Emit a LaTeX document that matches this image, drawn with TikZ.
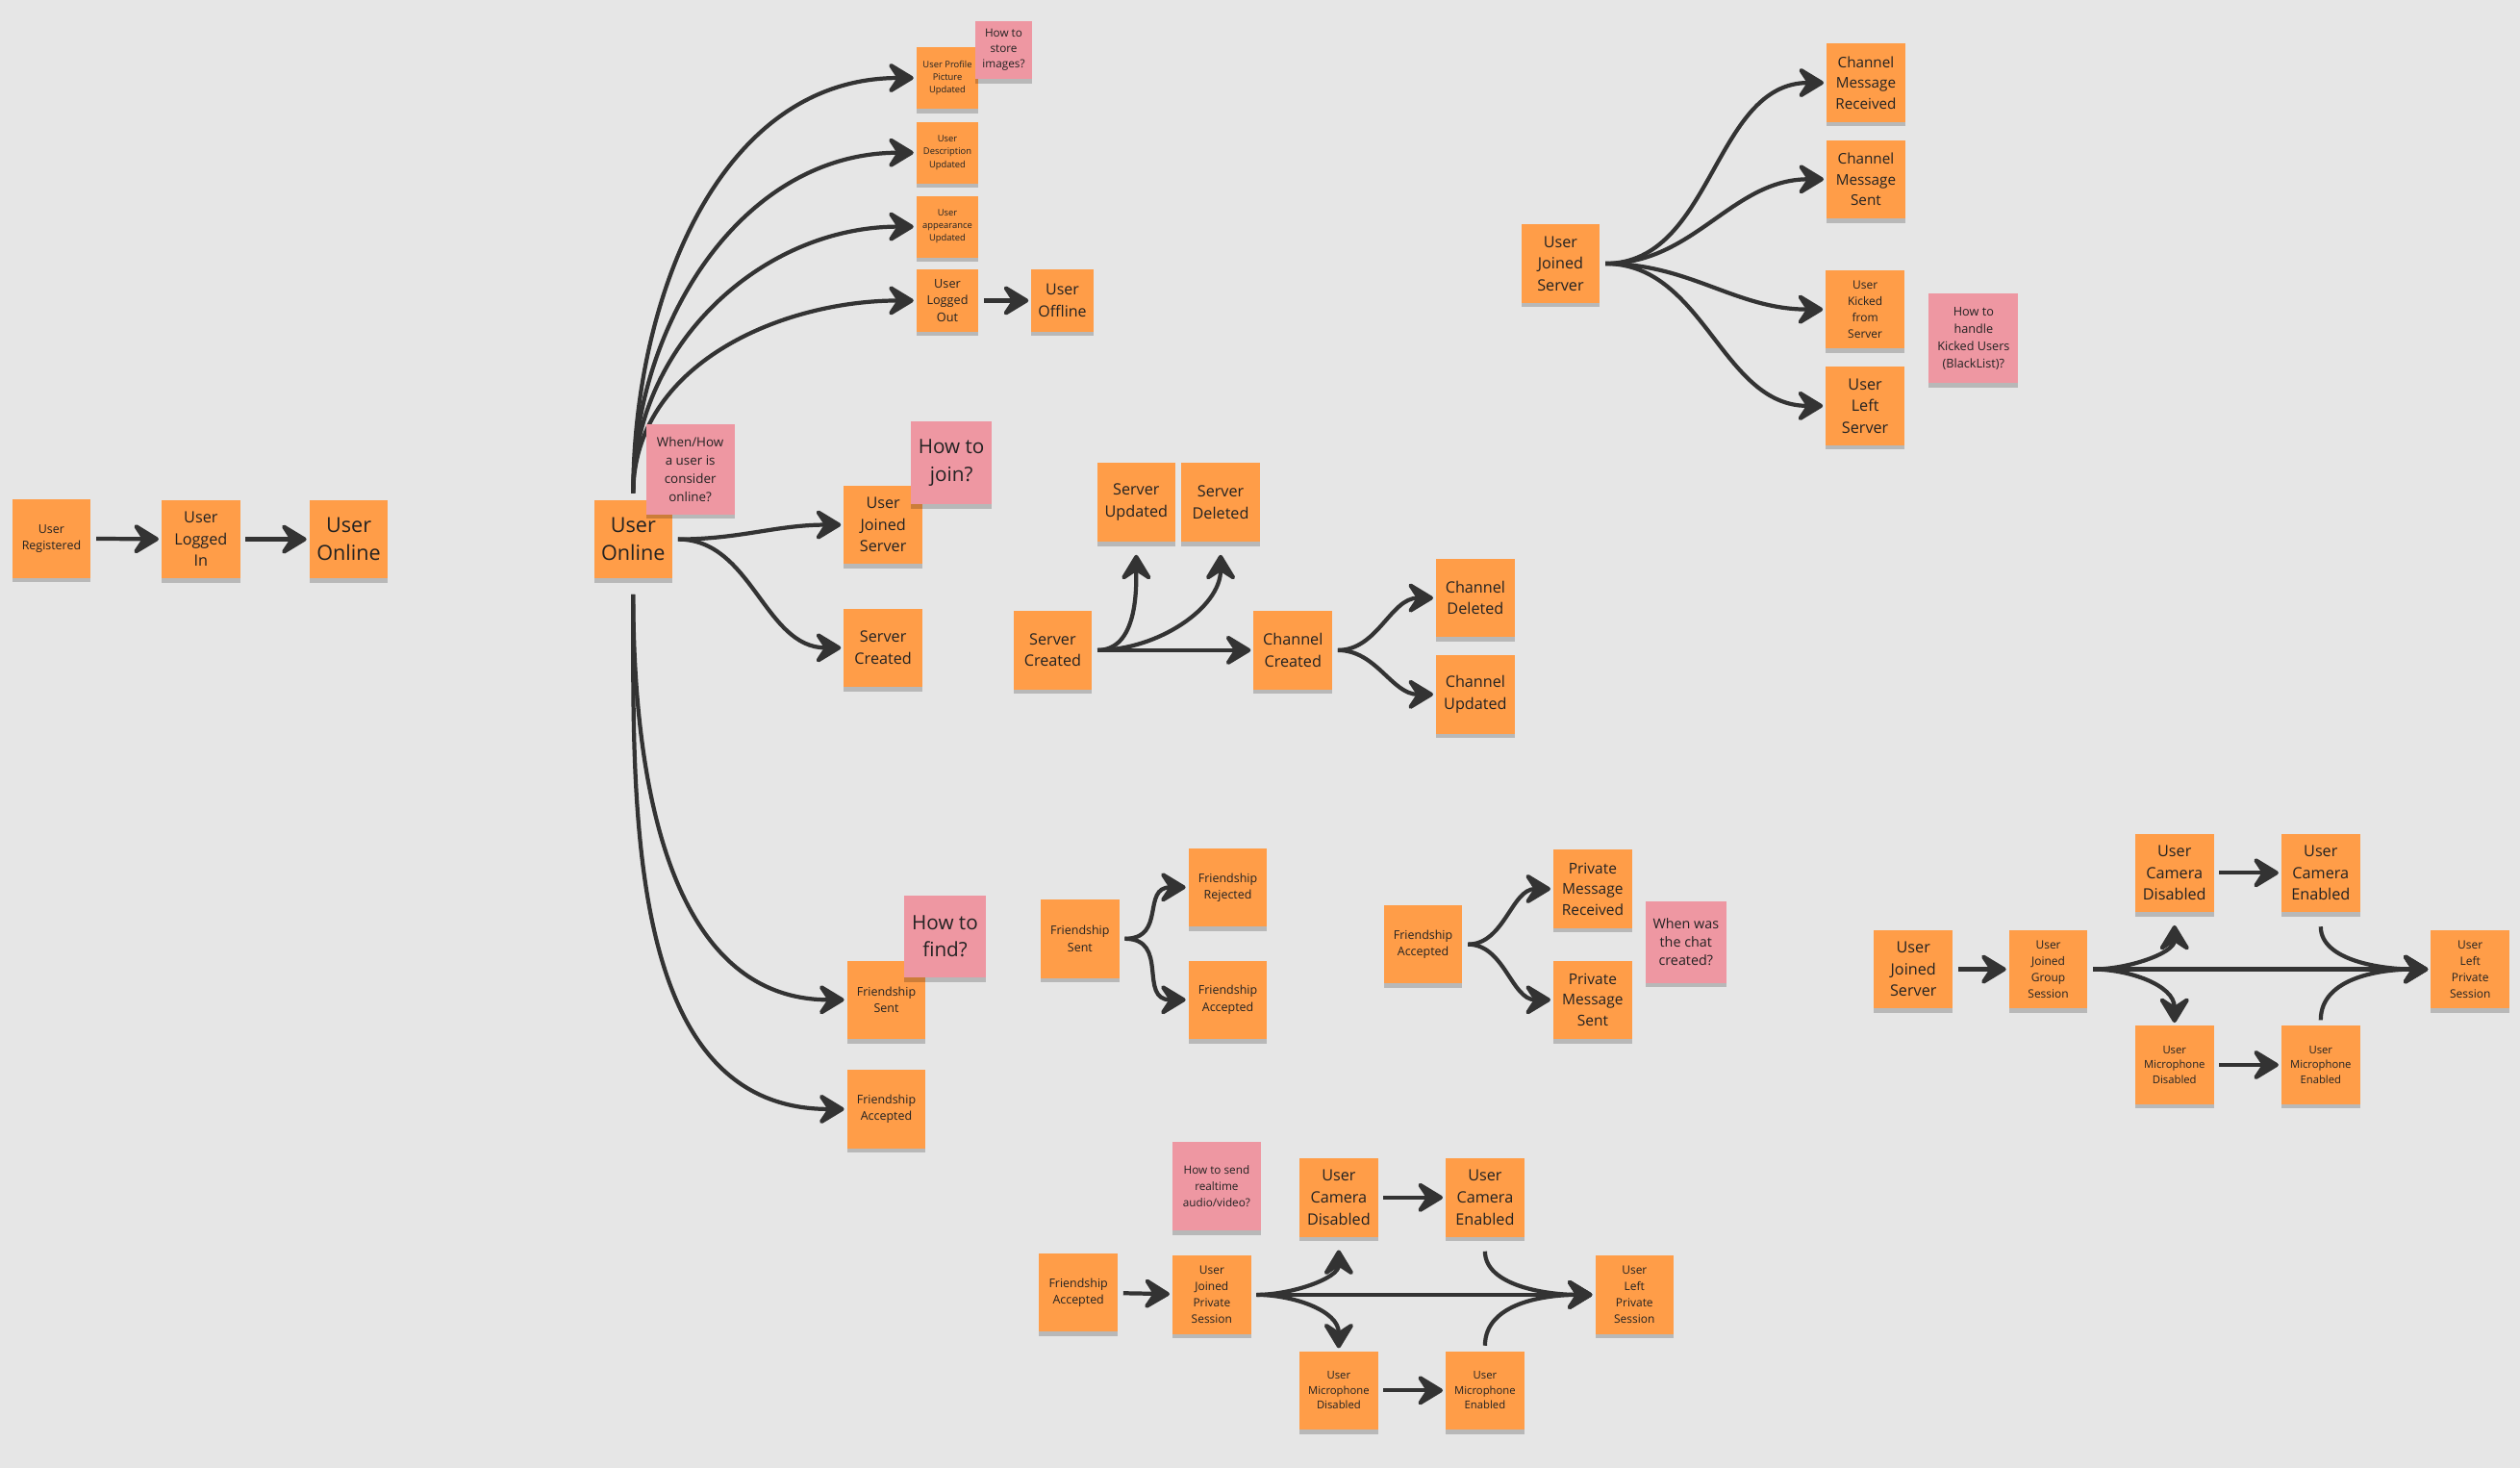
\documentclass[tikz,border=0pt]{standalone}
\usepackage{fontspec}
\setmainfont{Open Sans}
\usepackage{tikz}
\usetikzlibrary{arrows.meta,shadows}
\definecolor{boardgray}{HTML}{E6E6E6}
\definecolor{stickyorange}{HTML}{FF9D48}
\definecolor{stickypink}{HTML}{EE97A2}
\definecolor{inkgray}{HTML}{333333}
\definecolor{notetext}{HTML}{222222}
\tikzset{
  stickybox/.style={fill=stickyorange,text=notetext,align=center,inner sep=0pt,
    minimum width=12.2mm,minimum height=12.2mm,
    drop shadow={shadow xshift=0mm,shadow yshift=-0.7mm,opacity=0.2,fill=black}},
  questionbox/.style={stickybox,fill=stickypink},
  smallsticky/.style={minimum width=9.6mm,minimum height=9.6mm},
  tinytext/.style={font=\fontsize{4}{5.6}\selectfont},
  smalltext/.style={font=\fontsize{5.3}{7.3}\selectfont},
  sessiontext/.style={font=\fontsize{5.1}{7.2}\selectfont},
  mictext/.style={font=\fontsize{4.8}{6.6}\selectfont},
  midtext/.style={font=\fontsize{6.9}{9.6}\selectfont},
  msgtext/.style={font=\fontsize{6.5}{9.2}\selectfont},
  bigtext/.style={font=\fontsize{9.2}{12.2}\selectfont},
  flowarrow/.style={-{Stealth[length=4.8mm,width=5.8mm,inset=1.9mm,round]},
    line width=1.8pt,draw=inkgray,shorten <=0.8mm,shorten >=0.4mm}
}

\begin{document}
\begin{tikzpicture}[x=0.25mm,y=-0.25mm]
  \fill[boardgray] (0,0) rectangle (1568,913);
  \useasboundingbox (0,0) rectangle (1568,913);

  % sign in
  \node[stickybox,smalltext] (registered) at (32,335) {User\\Registered};
  \node[stickybox,midtext] (loggedin) at (125,335.5) {User\\Logged\\In};
  \node[stickybox,bigtext] (online) at (217,335.5) {User\\Online};
  \draw[flowarrow] (registered) -- (loggedin);
  \draw[flowarrow] (loggedin) -- (online);

  % what an online user can do
  \node[stickybox,bigtext] (hub) at (394,335.5) {User\\Online};
  \node[stickybox,smallsticky,tinytext] (picture) at (589.5,48.5) {User Profile\\Picture\\Updated};
  \node[stickybox,smallsticky,tinytext] (description) at (589.5,95) {User\\Description\\Updated};
  \node[stickybox,smallsticky,tinytext] (appearance) at (589.5,141) {User\\appearance\\Updated};
  \node[stickybox,smallsticky,font=\fontsize{5.4}{7.4}\selectfont] (loggedout) at (589.5,187) {User\\Logged\\Out};
  \node[stickybox,smallsticky,font=\fontsize{6.8}{9.6}\selectfont] (offline) at (661,187) {User\\Offline};
  \node[stickybox,midtext] (joinedserver) at (549.5,326.5) {User\\Joined\\Server};
  \node[stickybox,midtext] (servercreated) at (549.5,403) {Server\\Created};
  \node[stickybox,smalltext] (friendsent) at (551.5,622) {Friendship\\Sent};
  \node[stickybox,smalltext] (friendaccepted) at (551.5,690) {Friendship\\Accepted};
  \foreach \target in {picture,description,appearance,loggedout}
    \draw[flowarrow,shorten <=1mm] (hub.north) to[out=90,in=180] (\target.west);
  \draw[flowarrow] (loggedout) -- (offline);
  \draw[flowarrow] (hub.east) to[out=0,in=180] (joinedserver.west);
  \draw[flowarrow] (hub.east) to[out=0,in=180] (servercreated.west);
  \foreach \target in {friendsent,friendaccepted}
    \draw[flowarrow,shorten <=2.4mm] (hub.south) to[out=-90,in=180] (\target.west);

  % servers and channels
  \node[stickybox,midtext] (server) at (655,404.5) {Server\\Created};
  \node[stickybox,midtext] (serverupdated) at (707,312.5) {Server\\Updated};
  \node[stickybox,midtext] (serverdeleted) at (759.5,312.5) {Server\\Deleted};
  \node[stickybox,midtext] (channel) at (804.5,404.5) {Channel\\Created};
  \node[stickybox,midtext] (channeldeleted) at (918,372) {Channel\\Deleted};
  \node[stickybox,midtext] (channelupdated) at (918,432) {Channel\\Updated};
  \draw[flowarrow,shorten >=2mm] (server.east) to[out=0,in=-90] (serverupdated.south);
  \draw[flowarrow,shorten >=2mm] (server.east) to[out=0,in=-90] (serverdeleted.south);
  \draw[flowarrow] (server) -- (channel);
  \draw[flowarrow] (channel.east) to[out=0,in=180] (channeldeleted.west);
  \draw[flowarrow] (channel.east) to[out=0,in=180] (channelupdated.west);

  % membership
  \node[stickybox,midtext] (member) at (971,164) {User\\Joined\\Server};
  \node[stickybox,msgtext] (channelreceived) at (1161,51.5) {Channel\\Message\\Received};
  \node[stickybox,msgtext] (channelsent) at (1161,111.5) {Channel\\Message\\Sent};
  \node[stickybox,sessiontext] (kicked) at (1160.5,192.5) {User\\Kicked\\from\\Server};
  \node[stickybox,midtext] (leftserver) at (1160.5,252.5) {User\\Left\\Server};
  \foreach \target in {channelreceived,channelsent,kicked,leftserver}
    \draw[flowarrow] (member.east) to[out=0,in=180] (\target.west);

  % friend requests
  \node[stickybox,smalltext] (request) at (672,584) {Friendship\\Sent};
  \node[stickybox,smalltext] (rejected) at (764,552) {Friendship\\Rejected};
  \node[stickybox,smalltext] (accepted) at (764,622) {Friendship\\Accepted};
  \foreach \target in {rejected,accepted}
    \draw[flowarrow,looseness=1.4] (request.east) to[out=0,in=180] (\target.west);

  % private chat
  \node[stickybox,smalltext] (friends) at (885.5,587.5) {Friendship\\Accepted};
  \node[stickybox,font=\fontsize{6.6}{9.2}\selectfont] (privatereceived) at (991,553) {Private\\Message\\Received};
  \node[stickybox,font=\fontsize{6.6}{9.2}\selectfont] (privatesent) at (991,622) {Private\\Message\\Sent};
  \foreach \target in {privatereceived,privatesent}
    \draw[flowarrow] (friends.east) to[out=0,in=180] (\target.west);

  % private session
  \node[stickybox,smalltext] (callstart) at (671,804) {Friendship\\Accepted};
  \node[stickybox,sessiontext] (privatesession) at (754,805.5) {User\\Joined\\Private\\Session};
  \node[stickybox,midtext] (cameraoff) at (833,745) {User\\Camera\\Disabled};
  \node[stickybox,midtext] (cameraon) at (924,745) {User\\Camera\\Enabled};
  \node[stickybox,mictext] (micoff) at (833,865) {User\\Microphone\\Disabled};
  \node[stickybox,mictext] (micon) at (924,865) {User\\Microphone\\Enabled};
  \node[stickybox,sessiontext] (privateleft) at (1017,805.5) {User\\Left\\Private\\Session};
  \draw[flowarrow] (callstart) -- (privatesession);
  \draw[flowarrow] (privatesession) -- (privateleft);
  \draw[flowarrow,shorten >=2mm] (privatesession.east) to[out=0,in=-90] (cameraoff.south);
  \draw[flowarrow] (privatesession.east) to[out=0,in=90] (micoff.north);
  \draw[flowarrow] (cameraoff) -- (cameraon);
  \draw[flowarrow] (micoff) -- (micon);
  \draw[flowarrow,shorten <=2.2mm] (cameraon.south) to[out=-90,in=180] (privateleft.west);
  \draw[flowarrow] (micon.north) to[out=90,in=180] (privateleft.west);

  % group session
  \node[stickybox,midtext] (groupmember) at (1190.5,603) {User\\Joined\\Server};
  \node[stickybox,sessiontext] (groupsession) at (1274.5,603) {User\\Joined\\Group\\Session};
  \node[stickybox,midtext] (groupcameraoff) at (1353,543) {User\\Camera\\Disabled};
  \node[stickybox,midtext] (groupcameraon) at (1444,543) {User\\Camera\\Enabled};
  \node[stickybox,mictext] (groupmicoff) at (1353,662.5) {User\\Microphone\\Disabled};
  \node[stickybox,mictext] (groupmicon) at (1444,662.5) {User\\Microphone\\Enabled};
  \node[stickybox,sessiontext] (groupleft) at (1537,603) {User\\Left\\Private\\Session};
  \draw[flowarrow] (groupmember) -- (groupsession);
  \draw[flowarrow] (groupsession) -- (groupleft);
  \draw[flowarrow,shorten >=2mm] (groupsession.east) to[out=0,in=-90] (groupcameraoff.south);
  \draw[flowarrow] (groupsession.east) to[out=0,in=90] (groupmicoff.north);
  \draw[flowarrow] (groupcameraoff) -- (groupcameraon);
  \draw[flowarrow] (groupmicoff) -- (groupmicon);
  \draw[flowarrow,shorten <=2.2mm] (groupcameraon.south) to[out=-90,in=180] (groupleft.west);
  \draw[flowarrow] (groupmicon.north) to[out=90,in=180] (groupleft.west);

  % open questions
  \node[questionbox,font=\fontsize{5.7}{8}\selectfont,minimum width=13.8mm,minimum height=14mm] (onlineq) at (429.5,292) {When/How\\a user is\\consider\\online?};
  \node[questionbox,font=\fontsize{5}{6.8}\selectfont,minimum width=8.8mm,minimum height=9mm] (imageq) at (624.5,31) {How to\\store\\images?};
  \node[questionbox,font=\fontsize{8.8}{12.2}\selectfont,minimum width=12.6mm,minimum height=12.8mm] (joinq) at (592,288) {How to\\join?};
  \node[questionbox,font=\fontsize{8.8}{12.2}\selectfont,minimum width=12.6mm,minimum height=12.8mm] (findq) at (588,582.5) {How to\\find?};
  \node[questionbox,font=\fontsize{5.4}{7.7}\selectfont,minimum width=13.9mm,minimum height=13.9mm] (kickq) at (1228,210.5) {How to\\handle\\Kicked Users\\(BlackList)?};
  \node[questionbox,font=\fontsize{6.1}{8.2}\selectfont,minimum width=12.5mm,minimum height=12.7mm] (chatq) at (1049,586) {When was\\the chat\\created?};
  \node[questionbox,font=\fontsize{5}{7.1}\selectfont,minimum width=13.7mm,minimum height=13.8mm] (mediaq) at (757,738) {How to send\\realtime\\audio/video?};
\end{tikzpicture}
\end{document}
